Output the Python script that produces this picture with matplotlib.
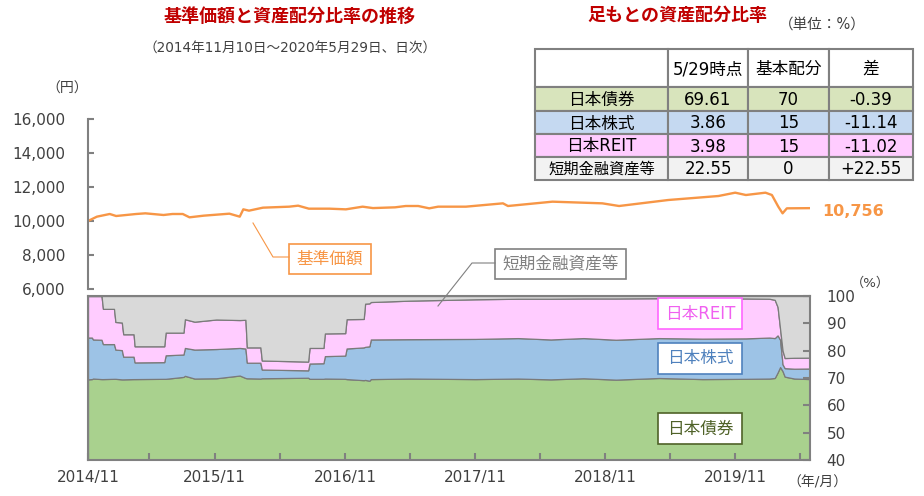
import matplotlib
matplotlib.use('Agg')
import matplotlib.pyplot as plt
import numpy as np
from matplotlib.patches import Rectangle

plt.rcParams['font.family'] = ['DejaVu Sans', 'Noto Sans CJK JP']

# ---- 基準価額 (NAV) ----
price_dates = ['2014-11-10', '2014-12-05', '2015-01-10', '2015-01-28', '2015-03-25', '2015-04-20',
               '2015-06-10', '2015-07-05', '2015-08-03', '2015-08-22', '2015-10-01', '2015-12-12',
               '2016-01-10', '2016-01-20', '2016-02-05', '2016-03-15', '2016-05-28', '2016-06-22',
               '2016-07-22', '2016-09-18', '2016-11-03', '2016-12-20', '2017-01-18', '2017-03-21',
               '2017-04-20', '2017-05-25', '2017-06-25', '2017-07-20', '2017-10-06', '2018-01-18',
               '2018-02-01', '2018-06-06', '2018-10-24', '2018-12-10', '2019-04-27', '2019-09-15',
               '2019-11-01', '2019-12-01', '2020-01-25', '2020-02-12', '2020-03-01', '2020-03-13',
               '2020-03-25', '2020-05-29']
price_vals = [10000, 10255, 10412, 10294, 10412, 10451,
              10353, 10412, 10412, 10216, 10314, 10431,
              10255, 10686, 10608, 10784, 10843, 10902,
              10725, 10725, 10686, 10843, 10760, 10804,
              10882, 10882, 10745, 10843, 10843, 11039,
              10882, 11137, 11039, 10882, 11235, 11470,
              11666, 11529, 11666, 11529, 10843, 10451,
              10745, 10756]

# ---- 資産配分比率 (%) ----
alloc_dates = ['2014-11-10', '2014-11-21', '2014-11-24', '2014-12-18', '2014-12-22', '2015-01-22',
               '2015-01-26', '2015-02-13', '2015-02-17', '2015-03-18', '2015-03-21', '2015-06-12',
               '2015-06-16', '2015-08-05', '2015-08-09', '2015-09-05', '2015-11-05', '2016-01-10',
               '2016-01-26', '2016-01-30', '2016-03-08', '2016-03-12', '2016-07-20', '2016-07-24',
               '2016-09-01', '2016-09-05', '2016-11-01', '2016-11-05', '2016-12-23', '2016-12-27',
               '2017-01-08', '2017-01-12', '2017-05-01', '2017-11-01', '2018-03-01', '2018-06-01',
               '2018-09-01', '2018-12-01', '2019-04-01', '2019-08-01', '2019-12-01', '2020-02-05',
               '2020-02-20', '2020-02-28', '2020-03-06', '2020-03-13', '2020-03-19', '2020-04-15',
               '2020-05-29']
bond = [69.5, 69.6, 69.8, 69.6, 69.6, 69.7, 69.7, 69.5, 69.5, 69.6, 69.6, 69.7,
        69.7, 70.4, 70.8, 69.8, 69.9, 70.9, 70.0, 69.9, 69.8, 69.9, 70.1, 69.7,
        69.7, 69.8, 69.7, 69.6, 69.2, 69.3, 69.0, 69.6, 69.8, 69.6, 69.8, 69.5,
        69.9, 69.4, 70.0, 69.6, 69.7, 69.8, 70.0, 72.0, 74.0, 72.5, 70.5, 69.8,
        69.61]
stock = [15.3, 15.2, 14.3, 14.4, 12.8, 12.7, 10.7, 10.7, 8.3, 8.2, 6.1, 6.1,
         8.6, 8.2, 10.2, 10.6, 10.7, 10.1, 10.8, 5.7, 5.8, 3.2, 2.7, 5.6,
         5.7, 8.2, 8.5, 11.2, 12.0, 12.1, 12.6, 14.5, 14.4, 14.7, 14.8, 14.6,
         14.7, 14.6, 14.6, 14.8, 14.8, 15.0, 14.6, 13.6, 10.0, 2.5, 3.1, 3.6,
         3.86]
reit = [15.2, 15.2, 15.9, 16.0, 12.9, 12.9, 10.1, 10.1, 8.2, 8.2, 5.9, 5.8,
        8.3, 8.0, 10.5, 10.2, 10.8, 10.2, 10.5, 5.6, 5.6, 3.3, 3.2, 5.7,
        5.6, 8.3, 8.2, 10.7, 10.4, 15.8, 15.7, 13.7, 14.1, 14.5, 14.4, 14.9,
        14.5, 15.1, 14.6, 14.8, 14.6, 14.2, 14.0, 10.4, 4.0, 5.0, 3.7, 4.0,
        3.98]

# ---- 表 ----
assets = ['日本債券', '日本株式', '日本REIT', '短期金融資産等']
current = [69.61, 3.86, 3.98, 22.55]
base = [70, 15, 15, 0]
headers = ['', '5/29時点', '基本配分', '差']

tick_dates = ['2014-11-10', '2015-05-01', '2015-11-01', '2016-05-01', '2016-11-01', '2017-05-01',
              '2017-11-01', '2018-05-01', '2018-11-01', '2019-05-01', '2019-11-01', '2020-05-01']
tick_labels = ['2014/11', '', '2015/11', '', '2016/11', '', '2017/11', '', '2018/11', '', '2019/11', '']

W, H = 924, 496
def box(l, t, r, b):
    return [l / W, 1 - b / H, (r - l) / W, (b - t) / H]

gray = '#808080'
txt = '#404040'
orange = '#F79646'
red = '#C00000'

fig = plt.figure(figsize=(W / 100, H / 100), dpi=100)

xd = np.array(alloc_dates, dtype='datetime64[D]')
pd_ = np.array(price_dates, dtype='datetime64[D]')
xlim = (np.datetime64('2014-11-10'), np.datetime64('2020-05-29'))

# price axis
ax1 = fig.add_axes(box(88, 119, 810, 289))
ax1.plot(pd_, price_vals, color=orange, lw=1.7)
ax1.set_xlim(*xlim)
ax1.set_ylim(6000, 16000)
ax1.set_yticks(range(6000, 16001, 2000))
ax1.set_yticklabels([f'{v:,}' for v in range(6000, 16001, 2000)])
for s in ['top', 'right', 'bottom']:
    ax1.spines[s].set_visible(False)
ax1.spines['left'].set_color(gray)
ax1.spines['left'].set_linewidth(1.5)
ax1.set_xticks([])
ax1.tick_params(axis='y', direction='in', length=4, width=1.5, color=gray,
                labelsize=11, labelcolor=txt, pad=16)
ax1.patch.set_visible(False)

# allocation axis
ax2 = fig.add_axes(box(88, 296, 810, 460))
cash = 100 - np.array(bond) - np.array(stock) - np.array(reit)
ax2.stackplot(xd, bond, stock, reit, cash,
              colors=['#A9D18E', '#9DC3E6', '#FFCCFF', '#D9D9D9'],
              edgecolor='#7a7a7a', linewidth=0.9)
ax2.set_xlim(*xlim)
ax2.set_ylim(40, 100)
ax2.yaxis.tick_right()
ax2.set_yticks(range(40, 101, 10))
ax2.set_xticks(np.array(tick_dates, dtype='datetime64[D]'))
ax2.set_xticklabels(tick_labels)
ax2.tick_params(axis='both', direction='in', length=5, width=1.5, color=gray,
                labelsize=11, labelcolor=txt)
ax2.tick_params(axis='x', pad=7)
ax2.tick_params(axis='y', pad=12)
for s in ax2.spines.values():
    s.set_color(gray)
    s.set_linewidth(1.5)

# overlay in pixel coordinates
ov = fig.add_axes([0, 0, 1, 1])
ov.set_xlim(0, W)
ov.set_ylim(H, 0)
ov.axis('off')
ov.patch.set_visible(False)

ov.text(290, 17, '基準価額と資産配分比率の推移', ha='center', va='center',
        fontsize=13, fontweight='bold', color=red)
ov.text(290, 48, '（2014年11月10日～2020年5月29日、日次）', ha='center', va='center',
        fontsize=9.8, color=txt)
ov.text(67, 89, '（円）', ha='center', va='center', fontsize=10, color=txt)
ov.text(677, 16, '足もとの資産配分比率', ha='center', va='center',
        fontsize=13, fontweight='bold', color=red)
ov.text(822, 24, '（単位：%）', ha='center', va='center', fontsize=10.5, color=txt)
ov.text(870, 283, '（%）', ha='center', va='center', fontsize=9.5, color=txt)
ov.text(817, 483, '（年/月）', ha='center', va='center', fontsize=10, color=txt)
ov.text(822, 212, f'{price_vals[-1]:,}', ha='left', va='center',
        fontsize=11.5, fontweight='bold', color=orange)

# table
xs = [535, 668, 748, 829, 913]
ys = [49, 87, 111, 134, 157, 180]
row_colors = ['#D8E4BC', '#C5D9F1', '#FFCCFF', '#F2F2F2']
for j in range(4):
    ov.add_patch(Rectangle((xs[j], ys[0]), xs[j + 1] - xs[j], ys[1] - ys[0],
                           facecolor='white', edgecolor=gray, lw=1.5))
    ov.text((xs[j] + xs[j + 1]) / 2, (ys[0] + ys[1]) / 2 + 1, headers[j],
            ha='center', va='center', fontsize=12, color='black')
for i in range(4):
    cells = [assets[i], f'{current[i]:.2f}', f'{base[i]}', f'{current[i] - base[i]:+.2f}']
    for j in range(4):
        ov.add_patch(Rectangle((xs[j], ys[i + 1]), xs[j + 1] - xs[j], ys[i + 2] - ys[i + 1],
                               facecolor=row_colors[i], edgecolor=gray, lw=1.5))
        fs = 11 if (j == 0 and i == 3) else 12
        ov.text((xs[j] + xs[j + 1]) / 2, (ys[i + 1] + ys[i + 2]) / 2 + 1, cells[j],
                ha='center', va='center', fontsize=fs, color='black')

# labels
def label(l, t, r, b, s, ec, tc):
    ov.add_patch(Rectangle((l, t), r - l, b - t, facecolor='white', edgecolor=ec, lw=1.2))
    ov.text((l + r) / 2, (t + b) / 2, s, ha='center', va='center', fontsize=12, color=tc)

label(289, 244, 371, 274, '基準価額', orange, orange)
ov.plot([253, 273, 289], [223, 257, 257], color=orange, lw=0.8)
label(495, 249, 626, 279, '短期金融資産等', gray, gray)
ov.plot([495, 472, 438], [263, 263, 306], color=gray, lw=0.8)
label(658, 298, 742, 329, '日本REIT', '#FF66FF', '#F060F0')
label(658, 343, 742, 374, '日本株式', '#4F81BD', '#4F81BD')
label(658, 413, 742, 444, '日本債券', '#4F6228', '#4F6228')

fig.savefig('out.png', dpi=100)
